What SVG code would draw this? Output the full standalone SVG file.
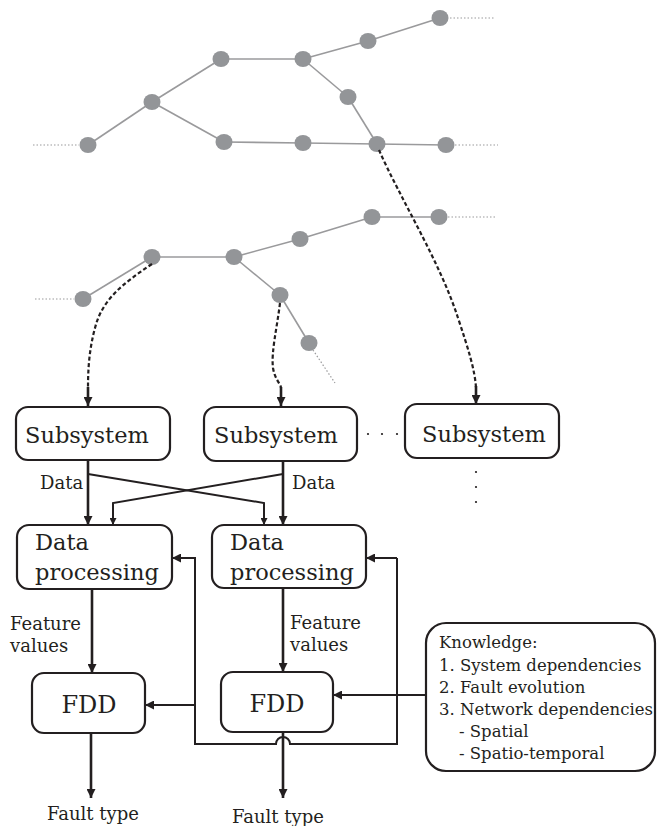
<svg xmlns="http://www.w3.org/2000/svg" width="657" height="826" viewBox="0 0 657 826">
<defs>
<style>
.bg{fill:#ffffff}
.edge{stroke:#9a9a9c;stroke-width:1.6;fill:none}
.dot{stroke:#9a9a9c;stroke-width:1.2;fill:none;stroke-dasharray:1.5 2}
.node{fill:#939598}
.dash{stroke:#231f20;stroke-width:2.2;fill:none;stroke-dasharray:4 2.5}
.box{fill:#ffffff;stroke:#231f20;stroke-width:2.2}
.main{stroke:#231f20;stroke-width:2.6;fill:none}
.thin{stroke:#231f20;stroke-width:2;fill:none}
.t{font-family:"DejaVu Serif","Liberation Serif",serif;fill:#231f20}
.big{font-size:22.5px}
.lab{font-size:18px}
.kn{font-size:16.5px}
</style>
<marker id="ah" viewBox="0 0 10 10" refX="10" refY="5" markerWidth="9" markerHeight="9" markerUnits="userSpaceOnUse" orient="auto">
<path d="M0,0 L10,5 L0,10 z" fill="#231f20"/>
</marker>
<marker id="ahs" viewBox="0 0 10 10" refX="10" refY="5" markerWidth="8" markerHeight="7" markerUnits="userSpaceOnUse" orient="auto">
<path d="M0,0 L10,5 L0,10 z" fill="#231f20"/>
</marker>
</defs>
<rect class="bg" x="0" y="0" width="657" height="826"/>

<g id="network-top">
<line class="dot" x1="33" y1="145" x2="79" y2="145"/>
<line class="dot" x1="450" y1="18" x2="494" y2="18"/>
<line class="dot" x1="455" y1="145" x2="498" y2="145"/>
<line class="edge" x1="88" y1="145" x2="152" y2="102"/>
<line class="edge" x1="152" y1="102" x2="221" y2="59"/>
<line class="edge" x1="152" y1="102" x2="224" y2="142"/>
<line class="edge" x1="221" y1="59" x2="303" y2="59"/>
<line class="edge" x1="303" y1="59" x2="368" y2="41"/>
<line class="edge" x1="368" y1="41" x2="440" y2="18"/>
<line class="edge" x1="303" y1="59" x2="348" y2="97"/>
<line class="edge" x1="348" y1="97" x2="377" y2="144"/>
<line class="edge" x1="224" y1="142" x2="303" y2="143"/>
<line class="edge" x1="303" y1="143" x2="377" y2="144"/>
<line class="edge" x1="377" y1="144" x2="446" y2="145"/>
<ellipse class="node" cx="88" cy="145" rx="8.5" ry="8"/>
<ellipse class="node" cx="152" cy="102" rx="8.5" ry="8"/>
<ellipse class="node" cx="221" cy="59" rx="8.5" ry="8"/>
<ellipse class="node" cx="303" cy="59" rx="8.5" ry="8"/>
<ellipse class="node" cx="368" cy="41" rx="8.5" ry="8"/>
<ellipse class="node" cx="440" cy="18" rx="8.5" ry="8"/>
<ellipse class="node" cx="348" cy="97" rx="8.5" ry="8"/>
<ellipse class="node" cx="224" cy="142" rx="8.5" ry="8"/>
<ellipse class="node" cx="303" cy="143" rx="8.5" ry="8"/>
<ellipse class="node" cx="377" cy="144" rx="8.5" ry="8"/>
<ellipse class="node" cx="446" cy="145" rx="8.5" ry="8"/>
</g>

<g id="network-bottom">
<line class="dot" x1="35" y1="299" x2="74" y2="299"/>
<line class="dot" x1="448" y1="217" x2="495" y2="217"/>
<line class="dot" x1="313" y1="350" x2="335" y2="383"/>
<line class="edge" x1="83" y1="299" x2="152" y2="257"/>
<line class="edge" x1="152" y1="257" x2="234" y2="257"/>
<line class="edge" x1="234" y1="257" x2="300" y2="239"/>
<line class="edge" x1="300" y1="239" x2="372" y2="217"/>
<line class="edge" x1="372" y1="217" x2="439" y2="217"/>
<line class="edge" x1="234" y1="257" x2="280" y2="295"/>
<line class="edge" x1="280" y1="295" x2="309" y2="343"/>
<ellipse class="node" cx="83" cy="299" rx="8.5" ry="8"/>
<ellipse class="node" cx="152" cy="257" rx="8.5" ry="8"/>
<ellipse class="node" cx="234" cy="257" rx="8.5" ry="8"/>
<ellipse class="node" cx="300" cy="239" rx="8.5" ry="8"/>
<ellipse class="node" cx="372" cy="217" rx="8.5" ry="8"/>
<ellipse class="node" cx="439" cy="217" rx="8.5" ry="8"/>
<ellipse class="node" cx="280" cy="295" rx="8.5" ry="8"/>
<ellipse class="node" cx="309" cy="343" rx="8.5" ry="8"/>
</g>

<g id="connectors">
<path class="dash" d="M152,264 C122,284 102,300 95,328 C89,350 88,370 88,388"/>
<line class="main" x1="88" y1="387" x2="88" y2="406" marker-end="url(#ah)"/>
<path class="dash" d="M280,303 C277,328 271,352 273,368 C275,380 281,384 281,388"/>
<line class="main" x1="281" y1="387" x2="281" y2="406" marker-end="url(#ah)"/>
<path class="dash" d="M379,150 C400,198 440,262 458,318 C468,348 475,370 476,388"/>
<line class="main" x1="476" y1="386" x2="476" y2="404" marker-end="url(#ah)"/>

<line class="main" x1="88" y1="460" x2="88" y2="525" marker-end="url(#ah)"/>
<line class="main" x1="283" y1="461" x2="283" y2="525" marker-end="url(#ah)"/>
<polyline class="thin" points="88,474 264,503 264,525" marker-end="url(#ahs)"/>
<polyline class="thin" points="283,474 113,503 113,525" marker-end="url(#ahs)"/>

<line class="main" x1="92" y1="589" x2="92" y2="673" marker-end="url(#ah)"/>
<line class="main" x1="283" y1="588" x2="283" y2="672" marker-end="url(#ah)"/>
<line class="main" x1="91" y1="733" x2="91" y2="798" marker-end="url(#ah)"/>
<line class="main" x1="283" y1="732" x2="283" y2="798" marker-end="url(#ah)"/>

<path class="thin" d="M397,558 L397,744 L290,744 A7,7 0 0 0 276,744 L195,744 L195,558 L172,558" marker-end="url(#ah)"/>
<line class="thin" x1="397" y1="558" x2="366" y2="558" marker-end="url(#ah)"/>
<line class="thin" x1="195" y1="705" x2="145" y2="705" marker-end="url(#ah)"/>
<line class="thin" x1="426" y1="695" x2="333" y2="695" marker-end="url(#ah)"/>

<g fill="#231f20">
<circle cx="368" cy="434" r="1.1"/>
<circle cx="382" cy="434" r="1.1"/>
<circle cx="397" cy="434" r="1.1"/>
<circle cx="476" cy="472" r="1.1"/>
<circle cx="476" cy="487" r="1.1"/>
<circle cx="476" cy="502" r="1.1"/>
</g>
<text class="t lab" x="40" y="489">Data</text>
<text class="t lab" x="292" y="489">Data</text>
<text class="t lab" x="10" y="630">Feature</text>
<text class="t lab" x="10" y="652">values</text>
<text class="t lab" x="290" y="629">Feature</text>
<text class="t lab" x="290" y="651">values</text>
<text class="t lab" x="47" y="820">Fault type</text>
<text class="t lab" x="232" y="823">Fault type</text>
</g>

<g id="subsystem-1">
<rect class="box" x="16" y="407" width="154" height="53" rx="12"/>
<text class="t big" x="25" y="443">Subsystem</text>
</g>
<g id="subsystem-2">
<rect class="box" x="204" y="407" width="153" height="54" rx="12"/>
<text class="t big" x="214" y="443">Subsystem</text>
</g>
<g id="subsystem-3">
<rect class="box" x="405" y="404" width="154" height="54" rx="12"/>
<text class="t big" x="422" y="442">Subsystem</text>
</g>
<g id="data-processing-1">
<rect class="box" x="17" y="525" width="155" height="64" rx="12"/>
<text class="t big" x="35" y="550">Data</text>
<text class="t big" x="35" y="580">processing</text>
</g>
<g id="data-processing-2">
<rect class="box" x="212" y="525" width="154" height="63" rx="12"/>
<text class="t big" x="230" y="550">Data</text>
<text class="t big" x="230" y="580">processing</text>
</g>
<g id="fdd-1">
<rect class="box" x="32" y="673" width="113" height="60" rx="12"/>
<text class="t big" x="89" y="713" text-anchor="middle" style="font-size:24px">FDD</text>
</g>
<g id="fdd-2">
<rect class="box" x="221" y="672" width="112" height="60" rx="12"/>
<text class="t big" x="277" y="712" text-anchor="middle" style="font-size:24px">FDD</text>
</g>
<g id="knowledge">
<rect class="box" x="426" y="623" width="229" height="148" rx="20"/>
<text class="t kn" x="439" y="648">Knowledge:</text>
<text class="t kn" x="439" y="671">1. System dependencies</text>
<text class="t kn" x="439" y="693">2. Fault evolution</text>
<text class="t kn" x="439" y="715">3. Network dependencies</text>
<text class="t kn" x="459" y="737">- Spatial</text>
<text class="t kn" x="459" y="759">- Spatio-temporal</text>
</g>
</svg>
